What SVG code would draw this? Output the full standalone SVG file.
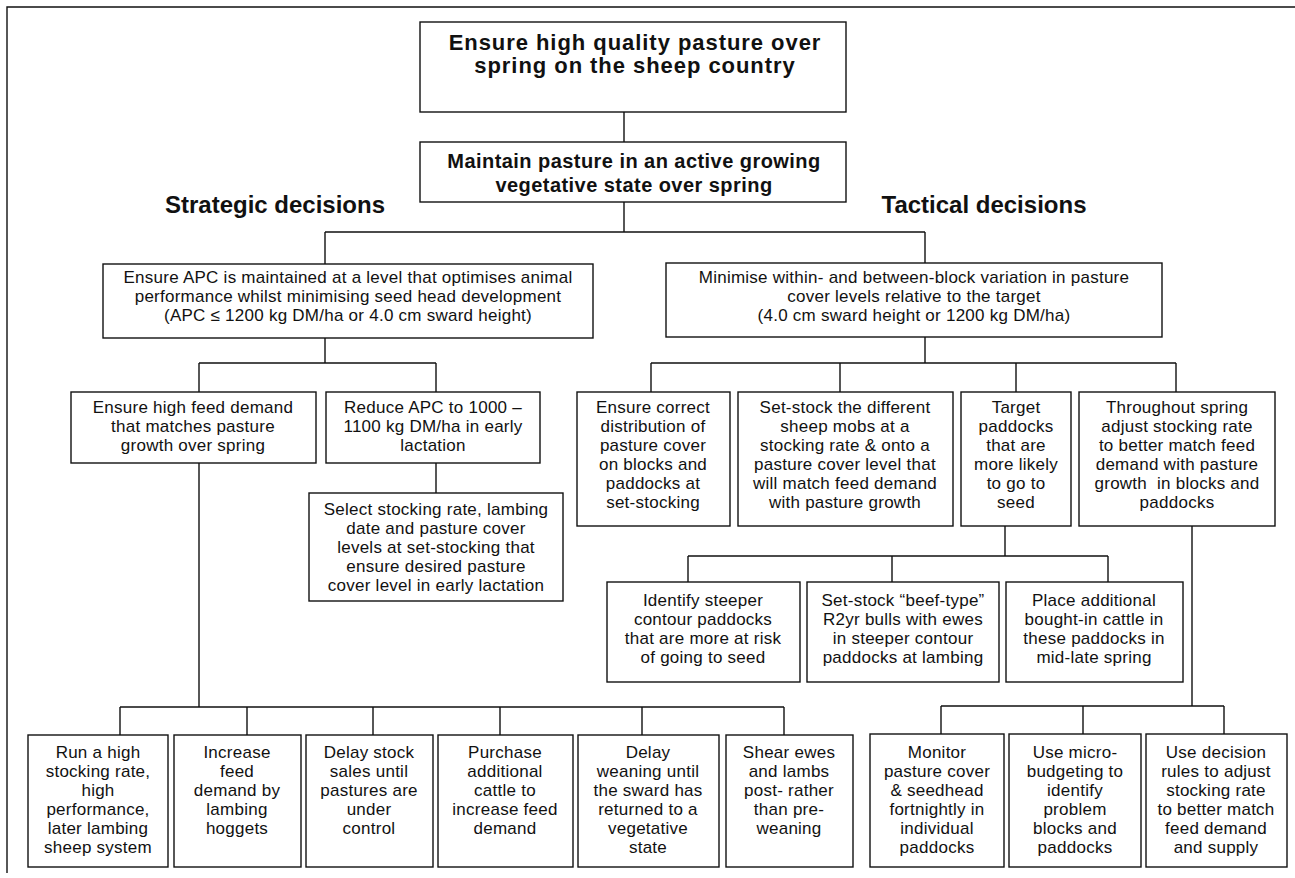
<svg xmlns="http://www.w3.org/2000/svg" width="1295" height="878" viewBox="0 0 1295 878">
<style>
.bx{fill:#fff;stroke:#111;stroke-width:1.4}
.ln{fill:none;stroke:#111;stroke-width:1.4}
text{font-family:"Liberation Sans",Arial,sans-serif;fill:#111;text-anchor:middle}
.t{font-size:17px;letter-spacing:0.25px}
.h1{font-size:22px;font-weight:bold;letter-spacing:0.95px}
.h2{font-size:20px;font-weight:bold;letter-spacing:0.45px}
.hd{font-size:24px;font-weight:bold}
</style>
<rect width="1295" height="878" fill="#fff"/>
<path class="ln" d="M7 873V7H1295"/>
<text class="hd" x="275" y="213">Strategic decisions</text>
<text class="hd" x="984" y="213">Tactical decisions</text>
<g id="connectors">
<path class="ln" d="M624 112V142M624 202V232M325 232H925M325 232V264M925 232V263"/>
<path class="ln" d="M325 338V363M199 363H436M199 363V392M436 363V392"/>
<path class="ln" d="M925 337V363M651 363H1176M651 363V392M840 363V392M1016 363V392M1176 363V392"/>
<path class="ln" d="M436 463V493"/>
<path class="ln" d="M1005 526V556M688 556H1108M688 556V582M892 556V582M1108 556V582"/>
<path class="ln" d="M199 463V707M120 707H784M120 707V735M247 707V735M373 707V735M500 707V735M642 707V735M784 707V735"/>
<path class="ln" d="M1192 526V706M941 706H1224M941 706V734M1083 706V734M1224 706V734"/>
</g>
<g id="n_top"><rect class="bx" x="420" y="22" width="426" height="90"/>
<text class="h1" x="635" y="50">Ensure high quality pasture over</text>
<text class="h1" x="635" y="73">spring on the sheep country</text></g>
<g id="n_maintain"><rect class="bx" x="420" y="142" width="426" height="60"/>
<text class="h2" x="634" y="168">Maintain pasture in an active growing</text>
<text class="h2" x="634" y="192">vegetative state over spring</text></g>
<g id="n_apc"><rect class="bx" x="103" y="264" width="490" height="74"/>
<text class="t" x="348" y="283">Ensure APC is maintained at a level that optimises animal</text>
<text class="t" x="348" y="302">performance whilst minimising seed head development</text>
<text class="t" x="348" y="321">(APC ≤ 1200 kg DM/ha or 4.0 cm sward height)</text></g>
<g id="n_minimise"><rect class="bx" x="666" y="263" width="496" height="74"/>
<text class="t" x="914" y="283">Minimise within- and between-block variation in pasture</text>
<text class="t" x="914" y="302">cover levels relative to the target</text>
<text class="t" x="914" y="321">(4.0 cm sward height or 1200 kg DM/ha)</text></g>
<g id="n_feeddemand"><rect class="bx" x="71" y="392" width="245" height="71"/>
<text class="t" x="193" y="413">Ensure high feed demand</text>
<text class="t" x="193" y="432">that matches pasture</text>
<text class="t" x="193" y="451">growth over spring</text></g>
<g id="n_reduce"><rect class="bx" x="326" y="392" width="214" height="71"/>
<text class="t" x="433" y="413">Reduce APC to 1000 –</text>
<text class="t" x="433" y="432">1100 kg DM/ha in early</text>
<text class="t" x="433" y="451">lactation</text></g>
<g id="n_select"><rect class="bx" x="309" y="493" width="254" height="108"/>
<text class="t" x="436" y="515">Select stocking rate, lambing</text>
<text class="t" x="436" y="534">date and pasture cover</text>
<text class="t" x="436" y="553">levels at set-stocking that</text>
<text class="t" x="436" y="572">ensure desired pasture</text>
<text class="t" x="436" y="591">cover level in early lactation</text></g>
<g id="n_distribution"><rect class="bx" x="577" y="392" width="153" height="134"/>
<text class="t" x="653" y="413">Ensure correct</text>
<text class="t" x="653" y="432">distribution of</text>
<text class="t" x="653" y="451">pasture cover</text>
<text class="t" x="653" y="470">on blocks and</text>
<text class="t" x="653" y="489">paddocks at</text>
<text class="t" x="653" y="508">set-stocking</text></g>
<g id="n_setstock"><rect class="bx" x="738" y="392" width="215" height="134"/>
<text class="t" x="845" y="413">Set-stock the different</text>
<text class="t" x="845" y="432">sheep mobs at a</text>
<text class="t" x="845" y="451">stocking rate &amp; onto a</text>
<text class="t" x="845" y="470">pasture cover level that</text>
<text class="t" x="845" y="489">will match feed demand</text>
<text class="t" x="845" y="508">with pasture growth</text></g>
<g id="n_target"><rect class="bx" x="961" y="392" width="110" height="134"/>
<text class="t" x="1016" y="413">Target</text>
<text class="t" x="1016" y="432">paddocks</text>
<text class="t" x="1016" y="451">that are</text>
<text class="t" x="1016" y="470">more likely</text>
<text class="t" x="1016" y="489">to go to</text>
<text class="t" x="1016" y="508">seed</text></g>
<g id="n_throughout"><rect class="bx" x="1079" y="392" width="196" height="134"/>
<text class="t" x="1177" y="413">Throughout spring</text>
<text class="t" x="1177" y="432">adjust stocking rate</text>
<text class="t" x="1177" y="451">to better match feed</text>
<text class="t" x="1177" y="470">demand with pasture</text>
<text class="t" x="1177" y="489" xml:space="preserve">growth  in blocks and</text>
<text class="t" x="1177" y="508">paddocks</text></g>
<g id="n_identify"><rect class="bx" x="607" y="582" width="193" height="100"/>
<text class="t" x="703" y="606">Identify steeper</text>
<text class="t" x="703" y="625">contour paddocks</text>
<text class="t" x="703" y="644">that are more at risk</text>
<text class="t" x="703" y="663">of going to seed</text></g>
<g id="n_beef"><rect class="bx" x="807" y="582" width="192" height="100"/>
<text class="t" x="903" y="606">Set-stock “beef-type”</text>
<text class="t" x="903" y="625">R2yr bulls with ewes</text>
<text class="t" x="903" y="644">in steeper contour</text>
<text class="t" x="903" y="663">paddocks at lambing</text></g>
<g id="n_place"><rect class="bx" x="1006" y="582" width="177" height="100"/>
<text class="t" x="1094" y="606">Place additional</text>
<text class="t" x="1094" y="625">bought-in cattle in</text>
<text class="t" x="1094" y="644">these paddocks in</text>
<text class="t" x="1094" y="663">mid-late spring</text></g>
<g id="n_run"><rect class="bx" x="28" y="735" width="140" height="132"/>
<text class="t" x="98" y="758">Run a high</text>
<text class="t" x="98" y="777">stocking rate,</text>
<text class="t" x="98" y="796">high</text>
<text class="t" x="98" y="815">performance,</text>
<text class="t" x="98" y="834">later lambing</text>
<text class="t" x="98" y="853">sheep system</text></g>
<g id="n_increase"><rect class="bx" x="174" y="735" width="127" height="132"/>
<text class="t" x="237" y="758">Increase</text>
<text class="t" x="237" y="777">feed</text>
<text class="t" x="237" y="796">demand by</text>
<text class="t" x="237" y="815">lambing</text>
<text class="t" x="237" y="834">hoggets</text></g>
<g id="n_delaystock"><rect class="bx" x="306" y="735" width="127" height="132"/>
<text class="t" x="369" y="758">Delay stock</text>
<text class="t" x="369" y="777">sales until</text>
<text class="t" x="369" y="796">pastures are</text>
<text class="t" x="369" y="815">under</text>
<text class="t" x="369" y="834">control</text></g>
<g id="n_purchase"><rect class="bx" x="438" y="735" width="135" height="132"/>
<text class="t" x="505" y="758">Purchase</text>
<text class="t" x="505" y="777">additional</text>
<text class="t" x="505" y="796">cattle to</text>
<text class="t" x="505" y="815">increase feed</text>
<text class="t" x="505" y="834">demand</text></g>
<g id="n_weaning"><rect class="bx" x="578" y="735" width="141" height="132"/>
<text class="t" x="648" y="758">Delay</text>
<text class="t" x="648" y="777">weaning until</text>
<text class="t" x="648" y="796">the sward has</text>
<text class="t" x="648" y="815">returned to a</text>
<text class="t" x="648" y="834">vegetative</text>
<text class="t" x="648" y="853">state</text></g>
<g id="n_shear"><rect class="bx" x="726" y="735" width="127" height="132"/>
<text class="t" x="789" y="758">Shear ewes</text>
<text class="t" x="789" y="777">and lambs</text>
<text class="t" x="789" y="796">post- rather</text>
<text class="t" x="789" y="815">than pre-</text>
<text class="t" x="789" y="834">weaning</text></g>
<g id="n_monitor"><rect class="bx" x="870" y="734" width="134" height="133"/>
<text class="t" x="937" y="758">Monitor</text>
<text class="t" x="937" y="777">pasture cover</text>
<text class="t" x="937" y="796">&amp; seedhead</text>
<text class="t" x="937" y="815">fortnightly in</text>
<text class="t" x="937" y="834">individual</text>
<text class="t" x="937" y="853">paddocks</text></g>
<g id="n_micro"><rect class="bx" x="1009" y="734" width="132" height="133"/>
<text class="t" x="1075" y="758">Use micro-</text>
<text class="t" x="1075" y="777">budgeting to</text>
<text class="t" x="1075" y="796">identify</text>
<text class="t" x="1075" y="815">problem</text>
<text class="t" x="1075" y="834">blocks and</text>
<text class="t" x="1075" y="853">paddocks</text></g>
<g id="n_rules"><rect class="bx" x="1146" y="734" width="141" height="133"/>
<text class="t" x="1216" y="758">Use decision</text>
<text class="t" x="1216" y="777">rules to adjust</text>
<text class="t" x="1216" y="796">stocking rate</text>
<text class="t" x="1216" y="815">to better match</text>
<text class="t" x="1216" y="834">feed demand</text>
<text class="t" x="1216" y="853">and supply</text></g>
</svg>
